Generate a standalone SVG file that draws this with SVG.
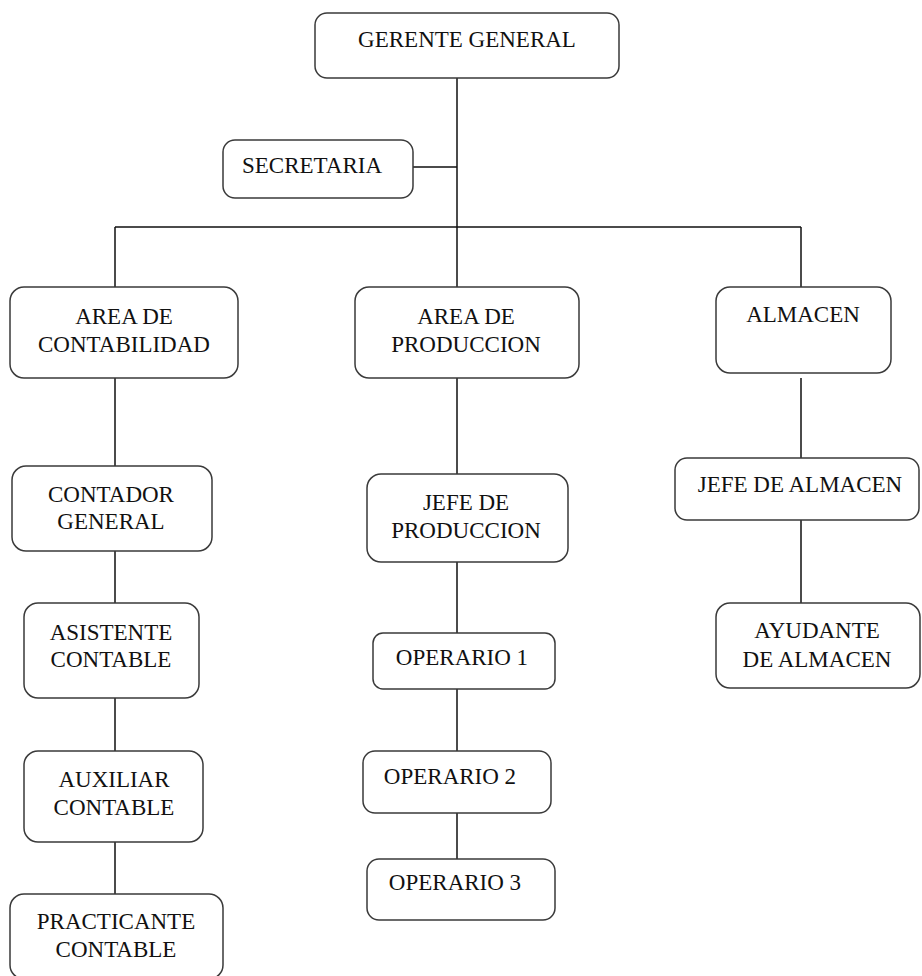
<svg xmlns="http://www.w3.org/2000/svg" width="922" height="976" viewBox="0 0 922 976">
<style>
.box{fill:#fff;stroke:#3a3a3a;stroke-width:1.5}
.c{stroke:#111;stroke-width:1.5;fill:none}
</style>
<rect width="922" height="976" fill="#fff"/>
<g id="connectors">
<path class="c" d="M457 78V287M413 167H457M115 227H801M115 227V287M801 227V287"/>
<path class="c" d="M115 378V466M115 551V603M115 698V751M115 842V894"/>
<path class="c" d="M457 378V474M457 562V633M457 689V751M457 813V859"/>
<path class="c" d="M801 378V458M801 520V603"/>
</g>
<g font-family="Liberation Serif, DejaVu Serif, serif" font-size="23" fill="#111" text-anchor="middle">
<g id="gerente"><rect class="box" x="315" y="13" width="304" height="65" rx="12"/><text x="467" y="47">GERENTE GENERAL</text></g>
<g id="secretaria"><rect class="box" x="223" y="140" width="190" height="58" rx="12"/><text x="312" y="173">SECRETARIA</text></g>
<g id="area-contabilidad"><rect class="box" x="10" y="287" width="228" height="91" rx="14"/><text x="124" y="324">AREA DE</text><text x="124" y="352">CONTABILIDAD</text></g>
<g id="area-produccion"><rect class="box" x="355" y="287" width="224" height="91" rx="14"/><text x="466" y="324">AREA DE</text><text x="466" y="352">PRODUCCION</text></g>
<g id="almacen"><rect class="box" x="716" y="287" width="175" height="86" rx="14"/><text x="803" y="322">ALMACEN</text></g>
<g id="contador-general"><rect class="box" x="12" y="466" width="200" height="85" rx="14"/><text x="111" y="502">CONTADOR</text><text x="111" y="529">GENERAL</text></g>
<g id="asistente-contable"><rect class="box" x="24" y="603" width="175" height="95" rx="14"/><text x="111" y="640">ASISTENTE</text><text x="111" y="667">CONTABLE</text></g>
<g id="auxiliar-contable"><rect class="box" x="24" y="751" width="179" height="91" rx="14"/><text x="114" y="787">AUXILIAR</text><text x="114" y="815">CONTABLE</text></g>
<g id="practicante-contable"><rect class="box" x="10" y="894" width="213" height="85" rx="14"/><text x="116" y="929">PRACTICANTE</text><text x="116" y="957">CONTABLE</text></g>
<g id="jefe-produccion"><rect class="box" x="367" y="474" width="201" height="88" rx="14"/><text x="466" y="510">JEFE DE</text><text x="466" y="538">PRODUCCION</text></g>
<g id="operario-1"><rect class="box" x="373" y="633" width="182" height="56" rx="10"/><text x="462" y="665">OPERARIO 1</text></g>
<g id="operario-2"><rect class="box" x="363" y="751" width="188" height="62" rx="12"/><text x="450" y="784">OPERARIO 2</text></g>
<g id="operario-3"><rect class="box" x="367" y="859" width="188" height="61" rx="12"/><text x="455" y="890">OPERARIO 3</text></g>
<g id="jefe-almacen"><rect class="box" x="675" y="458" width="244" height="62" rx="12"/><text x="800" y="492">JEFE DE ALMACEN</text></g>
<g id="ayudante-almacen"><rect class="box" x="716" y="603" width="204" height="85" rx="14"/><text x="817" y="638">AYUDANTE</text><text x="817" y="667">DE ALMACEN</text></g>
</g>
</svg>
